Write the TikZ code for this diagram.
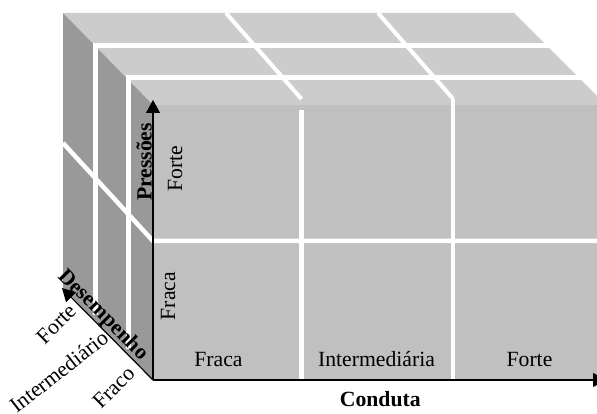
\documentclass[tikz,border=0pt]{standalone}
\usepackage{fontspec}
\setmainfont{Liberation Serif}
\usetikzlibrary{arrows.meta}
\definecolor{topgray}{HTML}{CCCCCC}
\definecolor{frontgray}{HTML}{C0C0C0}
\definecolor{sidegray}{HTML}{999999}
\begin{document}
\begin{tikzpicture}[x=1pt,y=-1pt,
  gap/.style={draw=white,line width=5pt},
  grid/.style={draw=white,line width=4.5pt},
  axis/.style={draw=black,line width=1.2pt,-{Triangle[length=13pt,width=14pt]}},
  lbl/.style={font=\fontsize{21.7}{26}\selectfont,inner sep=0pt,anchor=base},
  axlbl/.style={lbl,font=\fontsize{21.7}{26}\selectfont\bfseries}]
\useasboundingbox (0,0) rectangle (597,414);
\clip (0,0) rectangle (597,414);

% faces of the cube
\fill[topgray] (63,13) -- (514,13) -- (606,105) -- (153,105) -- cycle;
\fill[sidegray] (63,13) -- (153,105) -- (153,380) -- (63,288) -- cycle;
\fill[frontgray] (153,105) rectangle (606,380);

% gaps between the three slabs
\draw[gap] (95.5,315) -- (95.5,45.5) -- (570,45.5);
\draw[gap] (128.8,349) -- (128.8,77.5) -- (590,77.5);

% cell divisions
\draw[grid] (63,143) -- (153,241) -- (606,241);
\draw[grid,line width=4pt] (226,13) -- (301.5,99);
\draw[grid] (301.5,110) -- (301.5,380);
\draw[grid,line width=4pt] (378,13) -- (453.2,99);
\draw[grid] (453.2,99) -- (453.2,380);

% axes
\coordinate (O) at (153,380);
\coordinate (ptip) at (153,100);
\coordinate (ctip) at (606,380);
\coordinate (dtip) at (62,288);
\draw[axis] (O) -- (ptip);
\draw[axis] (O) -- (ctip);
\draw[axis] (O) -- (dtip);

% labels
\node[axlbl,rotate=90] (pres) at (151.5,162) {Pressões};
\node[lbl,rotate=90] (pforte) at (182,168.5) {Forte};
\node[lbl,rotate=90] (pfraca) at (175,296) {Fraca};
\node[lbl] (cfraca) at (218.5,366) {Fraca};
\node[lbl] (cint) at (376.5,366) {Intermediária};
\node[lbl] (cforte) at (529.5,366) {Forte};
\node[axlbl] (cond) at (380.3,406.5) {Conduta};
\node[axlbl,rotate=-45.3] (desem) at (99.5,319) {Desempenho};
\node[lbl,rotate=45] (dforte) at (61,329) {Forte};
\node[lbl,rotate=38,anchor=base east] (dint) at (110,341) {Intermediário};
\node[lbl,rotate=45] (dfraco) at (118.5,392.5) {Fraco};
\end{tikzpicture}
\end{document}
